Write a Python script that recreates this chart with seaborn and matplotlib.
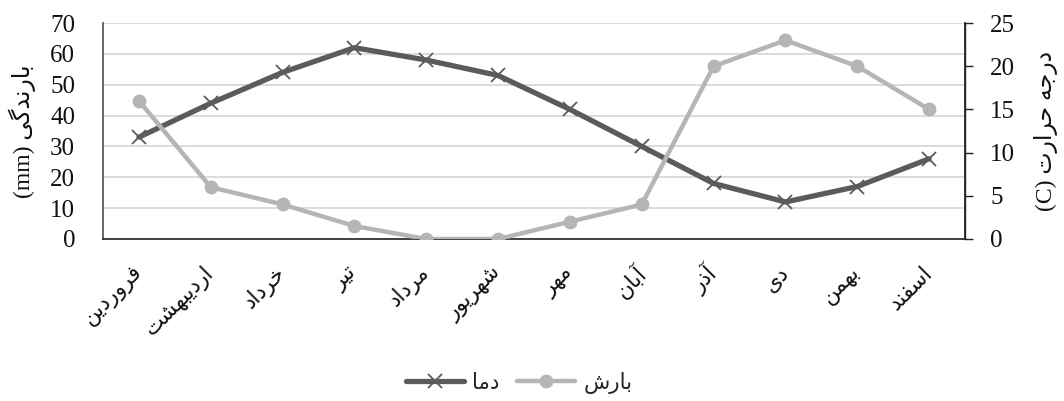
import matplotlib
matplotlib.use("Agg")
import matplotlib.pyplot as plt
from matplotlib.lines import Line2D
import seaborn as sns
import pandas as pd

# Monthly climate data (Persian calendar months)
months = ["فروردین", "اردیبهشت", "خرداد", "تیر", "مرداد", "شهریور",
          "مهر", "آبان", "آذر", "دی", "بهمن", "اسفند"]
temperature = [33, 44, 54, 62, 58, 53, 42, 30, 18, 12, 17, 26]
precipitation = [16, 6, 4, 1.5, 0, 0, 2, 4, 20, 23, 20, 15]
left_ticks = [0, 10, 20, 30, 40, 50, 60, 70]
right_ticks = [0, 5, 10, 15, 20, 25]

temp_name = "دما"
rain_name = "بارش"
left_title = "بارندگی (mm)"
right_title = "درجه حرارت (C)"

# --- minimal Arabic-script shaping (matplotlib has no complex text layout) ---
FORMS = {
    "ا": ("\uFE8D", "\uFE8E", None, None),
    "آ": ("\uFE81", "\uFE82", None, None),
    "ب": ("\uFE8F", "\uFE90", "\uFE91", "\uFE92"),
    "ت": ("\uFE95", "\uFE96", "\uFE97", "\uFE98"),
    "ج": ("\uFE9D", "\uFE9E", "\uFE9F", "\uFEA0"),
    "ح": ("\uFEA1", "\uFEA2", "\uFEA3", "\uFEA4"),
    "خ": ("\uFEA5", "\uFEA6", "\uFEA7", "\uFEA8"),
    "د": ("\uFEA9", "\uFEAA", None, None),
    "ذ": ("\uFEAB", "\uFEAC", None, None),
    "ر": ("\uFEAD", "\uFEAE", None, None),
    "ز": ("\uFEAF", "\uFEB0", None, None),
    "س": ("\uFEB1", "\uFEB2", "\uFEB3", "\uFEB4"),
    "ش": ("\uFEB5", "\uFEB6", "\uFEB7", "\uFEB8"),
    "ف": ("\uFED1", "\uFED2", "\uFED3", "\uFED4"),
    "م": ("\uFEE1", "\uFEE2", "\uFEE3", "\uFEE4"),
    "ن": ("\uFEE5", "\uFEE6", "\uFEE7", "\uFEE8"),
    "ه": ("\uFEE9", "\uFEEA", "\uFEEB", "\uFEEC"),
    "و": ("\uFEED", "\uFEEE", None, None),
    "ی": ("\uFBFC", "\uFBFD", "\uFBFE", "\uFBFF"),
    "گ": ("\uFB92", "\uFB93", "\uFB94", "\uFB95"),
}


def shape_word(word):
    out = []
    for i, ch in enumerate(word):
        if ch not in FORMS:
            out.append(ch)
            continue
        prev = word[i - 1] if i > 0 else None
        nxt = word[i + 1] if i + 1 < len(word) else None
        join_prev = prev in FORMS and FORMS[prev][2] is not None
        join_next = nxt in FORMS and FORMS[ch][2] is not None
        iso, fin, ini, med = FORMS[ch]
        if join_prev and join_next:
            out.append(med)
        elif join_prev:
            out.append(fin)
        elif join_next:
            out.append(ini)
        else:
            out.append(iso)
    return "".join(out)


def rtl(text):
    tokens = []
    for tok in text.split(" "):
        if any(c in FORMS for c in tok):
            tokens.append(shape_word(tok)[::-1])
        else:
            tokens.append(tok)
    return " ".join(tokens[::-1])


sns.set_theme(style="white")
plt.rcParams["font.family"] = ["Liberation Serif", "DejaVu Sans"]

dark = "#5b5b5b"
light = "#b5b5b5"

df = pd.DataFrame({"month": [rtl(m) for m in months],
                   "temp": temperature, "rain": precipitation})

fig = plt.figure(figsize=(10.64, 4.01), dpi=100)
ax = fig.add_axes([0.0968, 0.404, 0.8102, 0.5386])
ax2 = ax.twinx()

sns.lineplot(data=df, x="month", y="temp", ax=ax, sort=False, color=dark,
             linewidth=3.8, marker="x", markersize=10, markeredgewidth=1.3,
             markeredgecolor=dark, zorder=3)
sns.lineplot(data=df, x="month", y="rain", ax=ax2, sort=False, color=light,
             linewidth=3.2, marker="o", markersize=10, markeredgewidth=0,
             zorder=3)

ax.set_xlim(-0.5, len(months) - 0.5)
ax.set_ylim(0, 70)
ax2.set_ylim(0, 25)
ax.set_yticks(left_ticks)
ax2.set_yticks(right_ticks)
ax.yaxis.grid(True, color="#d9d9d9", linewidth=1.3)
ax.set_axisbelow(True)

for a in (ax, ax2):
    a.set_xlabel("")
    a.spines["top"].set_visible(False)
ax.spines["left"].set_color("#555555")
ax.spines["bottom"].set_color("#222222")
ax.spines["bottom"].set_linewidth(1.2)
ax2.spines["left"].set_visible(False)
ax2.spines["bottom"].set_visible(False)
ax2.spines["right"].set_color("#222222")
ax2.spines["right"].set_linewidth(1.0)

ax.tick_params(axis="y", length=0, pad=20, labelsize=18, labelcolor="#111111")
ax2.tick_params(axis="y", length=6, width=1, color="#222222", direction="out",
                pad=12, labelsize=18, labelcolor="#111111")
ax.tick_params(axis="x", length=0, pad=22)
plt.setp(ax.get_xticklabels(), rotation=45, ha="right", va="center",
         rotation_mode="anchor", fontsize=15.5, family="DejaVu Sans",
         color="#111111")

ax.set_ylabel(rtl(left_title), fontsize=17, color="#111111", labelpad=10,
              rotation=90)
ax2.set_ylabel(rtl(right_title), fontsize=17, color="#111111", labelpad=14,
               rotation=90)

handles = [
    Line2D([], [], color=dark, linewidth=3.8, marker="x", markersize=10,
           markeredgewidth=1.3, markeredgecolor=dark),
    Line2D([], [], color=light, linewidth=3.2, marker="o", markersize=10,
           markeredgewidth=0),
]
fig.legend(handles, [rtl(temp_name), rtl(rain_name)], loc="center",
           bbox_to_anchor=(0.488, 0.045), ncol=2, frameon=False,
           handlelength=2.7, columnspacing=0.8, handletextpad=0.4,
           prop={"family": "DejaVu Sans", "size": 15.5})

fig.savefig("out.png", dpi=100)
